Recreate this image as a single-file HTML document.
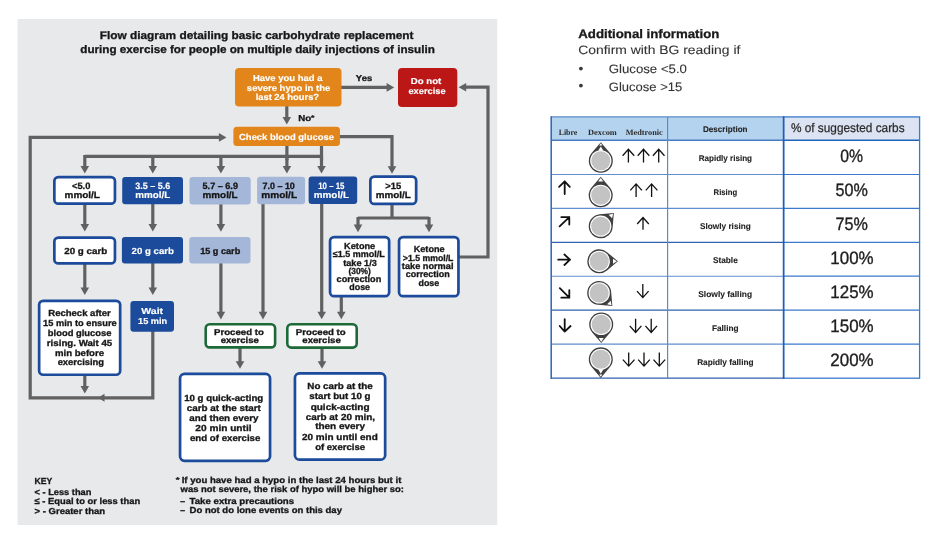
<!DOCTYPE html><html><head><meta charset="utf-8"><style>html,body{margin:0;padding:0;background:#fff;width:940px;height:538px;overflow:hidden;position:relative}svg{will-change:transform}svg text{text-rendering:geometricPrecision}</style></head><body><svg width="940" height="538" viewBox="0 0 940 538" style="position:absolute;left:0;top:0">
<rect x="17.6" y="19" width="479.6" height="506" fill="#e8e9eb"/>
<text transform="translate(99.65 38.70) scale(1.0788 1)" font-family="Liberation Sans" font-weight="bold" font-size="11" fill="#161616" stroke="#161616" stroke-width="0.3">Flow diagram detailing basic carbohydrate replacement</text>
<text transform="translate(80.25 53.40) scale(1.0626 1)" font-family="Liberation Sans" font-weight="bold" font-size="11" fill="#161616" stroke="#161616" stroke-width="0.3">during exercise for people on multiple daily injections of insulin</text>
<path d="M341.00 87.40 L387.60 87.40" fill="none" stroke="#616161" stroke-width="3.2" stroke-linejoin="miter" stroke-linecap="butt"/>
<path d="M394.20 87.40 L386.60 83.10 L386.60 91.70Z" fill="#616161"/>
<path d="M286.80 106.00 L286.80 118.00" fill="none" stroke="#616161" stroke-width="3.2" stroke-linejoin="miter" stroke-linecap="butt"/>
<path d="M286.80 124.60 L282.50 117.00 L291.10 117.00Z" fill="#616161"/>
<path d="M152.80 331.00 L152.80 397.80 L30.20 397.80 L30.20 137.40 L222.00 137.40" fill="none" stroke="#616161" stroke-width="3.2" stroke-linejoin="miter" stroke-linecap="butt"/>
<path d="M226.50 137.40 L218.90 133.10 L218.90 141.70Z" fill="#616161"/>
<path d="M98.00 397.80 L104.50 393.80 L104.50 401.80Z" fill="#616161"/>
<path d="M84.80 375.00 L84.80 386.90" fill="none" stroke="#616161" stroke-width="3.2" stroke-linejoin="miter" stroke-linecap="butt"/>
<path d="M84.80 393.50 L80.50 385.90 L89.10 385.90Z" fill="#616161"/>
<path d="M84.80 156.30 L321.50 156.30" fill="none" stroke="#616161" stroke-width="3.2" stroke-linejoin="miter" stroke-linecap="butt"/>
<path d="M286.90 145.00 L286.90 160.00" fill="none" stroke="#616161" stroke-width="3.2" stroke-linejoin="miter" stroke-linecap="butt"/>
<path d="M321.50 145.00 L321.50 160.00" fill="none" stroke="#616161" stroke-width="3.2" stroke-linejoin="miter" stroke-linecap="butt"/>
<path d="M84.80 155.00 L84.80 167.00" fill="none" stroke="#616161" stroke-width="3.2" stroke-linejoin="miter" stroke-linecap="butt"/>
<path d="M84.80 173.60 L80.50 166.00 L89.10 166.00Z" fill="#616161"/>
<path d="M152.80 155.00 L152.80 167.00" fill="none" stroke="#616161" stroke-width="3.2" stroke-linejoin="miter" stroke-linecap="butt"/>
<path d="M152.80 173.60 L148.50 166.00 L157.10 166.00Z" fill="#616161"/>
<path d="M220.90 155.00 L220.90 167.00" fill="none" stroke="#616161" stroke-width="3.2" stroke-linejoin="miter" stroke-linecap="butt"/>
<path d="M220.90 173.60 L216.60 166.00 L225.20 166.00Z" fill="#616161"/>
<path d="M286.90 155.00 L286.90 167.00" fill="none" stroke="#616161" stroke-width="3.2" stroke-linejoin="miter" stroke-linecap="butt"/>
<path d="M286.90 173.60 L282.60 166.00 L291.20 166.00Z" fill="#616161"/>
<path d="M321.50 155.00 L321.50 167.00" fill="none" stroke="#616161" stroke-width="3.2" stroke-linejoin="miter" stroke-linecap="butt"/>
<path d="M321.50 173.60 L317.20 166.00 L325.80 166.00Z" fill="#616161"/>
<path d="M339.00 136.60 L392.00 136.60 L392.00 167.20" fill="none" stroke="#616161" stroke-width="3.2" stroke-linejoin="miter" stroke-linecap="butt"/>
<path d="M392.00 173.80 L387.70 166.20 L396.30 166.20Z" fill="#616161"/>
<path d="M392.00 204.00 L392.00 218.00" fill="none" stroke="#616161" stroke-width="3.2" stroke-linejoin="miter" stroke-linecap="butt"/>
<path d="M358.00 218.00 L429.00 218.00" fill="none" stroke="#616161" stroke-width="3.2" stroke-linejoin="miter" stroke-linecap="butt"/>
<path d="M358.00 217.00 L358.00 225.60" fill="none" stroke="#616161" stroke-width="3.2" stroke-linejoin="miter" stroke-linecap="butt"/>
<path d="M358.00 232.20 L353.70 224.60 L362.30 224.60Z" fill="#616161"/>
<path d="M429.00 217.00 L429.00 225.60" fill="none" stroke="#616161" stroke-width="3.2" stroke-linejoin="miter" stroke-linecap="butt"/>
<path d="M429.00 232.20 L424.70 224.60 L433.30 224.60Z" fill="#616161"/>
<path d="M459.00 257.00 L488.00 257.00 L488.00 87.20 L463.00 87.20" fill="none" stroke="#616161" stroke-width="3.2" stroke-linejoin="miter" stroke-linecap="butt"/>
<path d="M458.60 87.20 L466.20 82.90 L466.20 91.50Z" fill="#616161"/>
<path d="M84.80 204.00 L84.80 224.90" fill="none" stroke="#616161" stroke-width="3.2" stroke-linejoin="miter" stroke-linecap="butt"/>
<path d="M84.80 231.50 L80.50 223.90 L89.10 223.90Z" fill="#616161"/>
<path d="M152.80 204.00 L152.80 224.90" fill="none" stroke="#616161" stroke-width="3.2" stroke-linejoin="miter" stroke-linecap="butt"/>
<path d="M152.80 231.50 L148.50 223.90 L157.10 223.90Z" fill="#616161"/>
<path d="M220.90 204.00 L220.90 225.10" fill="none" stroke="#616161" stroke-width="3.2" stroke-linejoin="miter" stroke-linecap="butt"/>
<path d="M220.90 231.70 L216.60 224.10 L225.20 224.10Z" fill="#616161"/>
<path d="M84.80 264.00 L84.80 288.40" fill="none" stroke="#616161" stroke-width="3.2" stroke-linejoin="miter" stroke-linecap="butt"/>
<path d="M84.80 295.00 L80.50 287.40 L89.10 287.40Z" fill="#616161"/>
<path d="M152.80 263.00 L152.80 288.40" fill="none" stroke="#616161" stroke-width="3.2" stroke-linejoin="miter" stroke-linecap="butt"/>
<path d="M152.80 295.00 L148.50 287.40 L157.10 287.40Z" fill="#616161"/>
<path d="M220.90 263.00 L220.90 312.80" fill="none" stroke="#616161" stroke-width="3.2" stroke-linejoin="miter" stroke-linecap="butt"/>
<path d="M220.90 319.40 L216.60 311.80 L225.20 311.80Z" fill="#616161"/>
<path d="M263.00 204.00 L263.00 312.80" fill="none" stroke="#616161" stroke-width="3.2" stroke-linejoin="miter" stroke-linecap="butt"/>
<path d="M263.00 319.40 L258.70 311.80 L267.30 311.80Z" fill="#616161"/>
<path d="M321.70 203.00 L321.70 312.70" fill="none" stroke="#616161" stroke-width="3.2" stroke-linejoin="miter" stroke-linecap="butt"/>
<path d="M321.70 319.30 L317.40 311.70 L326.00 311.70Z" fill="#616161"/>
<path d="M341.30 297.00 L341.30 312.70" fill="none" stroke="#616161" stroke-width="3.2" stroke-linejoin="miter" stroke-linecap="butt"/>
<path d="M341.30 319.30 L337.00 311.70 L345.60 311.70Z" fill="#616161"/>
<path d="M240.00 348.00 L240.00 362.20" fill="none" stroke="#616161" stroke-width="3.2" stroke-linejoin="miter" stroke-linecap="butt"/>
<path d="M240.00 368.80 L235.70 361.20 L244.30 361.20Z" fill="#616161"/>
<path d="M322.00 348.00 L322.00 362.20" fill="none" stroke="#616161" stroke-width="3.2" stroke-linejoin="miter" stroke-linecap="butt"/>
<path d="M322.00 368.80 L317.70 361.20 L326.30 361.20Z" fill="#616161"/>
<rect x="235.00" y="68.00" width="106.50" height="38.50" rx="4.00" fill="#e2851b"/>
<text transform="translate(252.95 81.30) scale(1.0767 1)" font-family="Liberation Sans" font-weight="bold" font-size="8.8" fill="#fff" stroke="#fff" stroke-width="0.15">Have you had a</text>
<text transform="translate(246.85 90.90) scale(1.0796 1)" font-family="Liberation Sans" font-weight="bold" font-size="8.8" fill="#fff" stroke="#fff" stroke-width="0.15">severe hypo in the</text>
<text transform="translate(255.65 99.70) scale(1.0628 1)" font-family="Liberation Sans" font-weight="bold" font-size="8.8" fill="#fff" stroke="#fff" stroke-width="0.15">last 24 hours?</text>
<text transform="translate(355.85 80.70) scale(1.0993 1)" font-family="Liberation Sans" font-weight="bold" font-size="8.6" fill="#161616" stroke="#161616" stroke-width="0.3">Yes</text>
<text transform="translate(298.15 120.60) scale(1.1248 1)" font-family="Liberation Sans" font-weight="bold" font-size="8.6" fill="#161616" stroke="#161616" stroke-width="0.3">No</text>
<text transform="translate(311.00 119.50) scale(1.2800 1)" font-family="Liberation Sans" font-weight="bold" font-size="6.8" fill="#161616" stroke="#161616" stroke-width="0.3">*</text>
<rect x="398.00" y="68.00" width="59.30" height="39.00" rx="4.00" fill="#bb1717"/>
<text transform="translate(410.75 84.30) scale(1.0984 1)" font-family="Liberation Sans" font-weight="bold" font-size="8.8" fill="#fff" stroke="#fff" stroke-width="0.15">Do not</text>
<text transform="translate(408.45 94.30) scale(1.0529 1)" font-family="Liberation Sans" font-weight="bold" font-size="8.8" fill="#fff" stroke="#fff" stroke-width="0.15">exercise</text>
<rect x="233.40" y="126.80" width="106.60" height="19.20" rx="3.50" fill="#e2851b"/>
<text transform="translate(239.05 139.80) scale(1.0725 1)" font-family="Liberation Sans" font-weight="bold" font-size="8.8" fill="#fff" stroke="#fff" stroke-width="0.15">Check blood glucose</text>
<rect x="54.35" y="177.05" width="60.60" height="26.60" rx="4.00" fill="#fff" stroke="#1c4b9b" stroke-width="2.7"/>
<text transform="translate(71.95 188.50) scale(1.0143 1)" font-family="Liberation Sans" font-weight="bold" font-size="9.2" fill="#161616" stroke="#161616" stroke-width="0.3">&lt;5.0</text>
<text transform="translate(64.55 197.50) scale(1.0835 1)" font-family="Liberation Sans" font-weight="bold" font-size="9.2" fill="#161616" stroke="#161616" stroke-width="0.3">mmol/L</text>
<rect x="122.20" y="176.90" width="60.80" height="27.40" rx="3.00" fill="#1c4b9b"/>
<text transform="translate(135.25 188.50) scale(0.9786 1)" font-family="Liberation Sans" font-weight="bold" font-size="9.2" fill="#fff" stroke="#fff" stroke-width="0.15">3.5 – 5.6</text>
<text transform="translate(135.25 197.50) scale(1.0713 1)" font-family="Liberation Sans" font-weight="bold" font-size="9.2" fill="#fff" stroke="#fff" stroke-width="0.15">mmol/L</text>
<rect x="189.50" y="177.10" width="61.20" height="27.50" rx="3.00" fill="#a4b7d8"/>
<text transform="translate(202.55 188.50) scale(0.9898 1)" font-family="Liberation Sans" font-weight="bold" font-size="9.2" fill="#161616" stroke="#161616" stroke-width="0.3">5.7 – 6.9</text>
<text transform="translate(202.55 197.50) scale(1.0743 1)" font-family="Liberation Sans" font-weight="bold" font-size="9.2" fill="#161616" stroke="#161616" stroke-width="0.3">mmol/L</text>
<rect x="257.10" y="176.80" width="48.00" height="27.50" rx="3.00" fill="#a4b7d8"/>
<text transform="translate(262.55 188.50) scale(0.9723 1)" font-family="Liberation Sans" font-weight="bold" font-size="9.2" fill="#161616" stroke="#161616" stroke-width="0.3">7.0 – 10</text>
<text transform="translate(261.25 197.50) scale(1.0957 1)" font-family="Liberation Sans" font-weight="bold" font-size="9.2" fill="#161616" stroke="#161616" stroke-width="0.3">mmol/L</text>
<rect x="308.60" y="176.60" width="48.60" height="27.40" rx="3.00" fill="#1c4b9b"/>
<text transform="translate(318.25 188.50) scale(0.8546 1)" font-family="Liberation Sans" font-weight="bold" font-size="9.2" fill="#fff" stroke="#fff" stroke-width="0.15">10 – 15</text>
<text transform="translate(313.75 197.50) scale(1.0774 1)" font-family="Liberation Sans" font-weight="bold" font-size="9.2" fill="#fff" stroke="#fff" stroke-width="0.15">mmol/L</text>
<rect x="370.35" y="176.65" width="45.80" height="27.30" rx="4.00" fill="#fff" stroke="#1c4b9b" stroke-width="2.7"/>
<text transform="translate(385.25 188.50) scale(1.0261 1)" font-family="Liberation Sans" font-weight="bold" font-size="9.2" fill="#161616" stroke="#161616" stroke-width="0.3">&gt;15</text>
<text transform="translate(375.65 197.50) scale(1.0774 1)" font-family="Liberation Sans" font-weight="bold" font-size="9.2" fill="#161616" stroke="#161616" stroke-width="0.3">mmol/L</text>
<rect x="54.35" y="237.55" width="60.60" height="25.90" rx="4.00" fill="#fff" stroke="#1c4b9b" stroke-width="2.7"/>
<text transform="translate(64.25 254.00) scale(1.1030 1)" font-family="Liberation Sans" font-weight="bold" font-size="8.9" fill="#161616" stroke="#161616" stroke-width="0.3">20 g carb</text>
<rect x="121.90" y="236.90" width="61.10" height="26.70" rx="3.00" fill="#1c4b9b"/>
<text transform="translate(131.55 254.00) scale(1.0876 1)" font-family="Liberation Sans" font-weight="bold" font-size="8.9" fill="#fff" stroke="#fff" stroke-width="0.15">20 g carb</text>
<rect x="189.30" y="236.90" width="61.20" height="26.50" rx="3.00" fill="#a4b7d8"/>
<text transform="translate(200.15 254.00) scale(1.0286 1)" font-family="Liberation Sans" font-weight="bold" font-size="8.9" fill="#161616" stroke="#161616" stroke-width="0.3">15 g carb</text>
<rect x="39.15" y="300.85" width="81.00" height="73.90" rx="4.00" fill="#fff" stroke="#1c4b9b" stroke-width="2.7"/>
<text transform="translate(48.25 316.10) scale(1.0831 1)" font-family="Liberation Sans" font-weight="bold" font-size="8.8" fill="#161616" stroke="#161616" stroke-width="0.3">Recheck after</text>
<text transform="translate(43.05 326.30) scale(1.0526 1)" font-family="Liberation Sans" font-weight="bold" font-size="8.8" fill="#161616" stroke="#161616" stroke-width="0.3">15 min to ensure</text>
<text transform="translate(47.85 335.90) scale(1.0667 1)" font-family="Liberation Sans" font-weight="bold" font-size="8.8" fill="#161616" stroke="#161616" stroke-width="0.3">blood glucose</text>
<text transform="translate(46.85 345.60) scale(1.1026 1)" font-family="Liberation Sans" font-weight="bold" font-size="8.8" fill="#161616" stroke="#161616" stroke-width="0.3">rising. Wait 45</text>
<text transform="translate(54.95 355.70) scale(1.0919 1)" font-family="Liberation Sans" font-weight="bold" font-size="8.8" fill="#161616" stroke="#161616" stroke-width="0.3">min before</text>
<text transform="translate(57.65 364.90) scale(1.0659 1)" font-family="Liberation Sans" font-weight="bold" font-size="8.8" fill="#161616" stroke="#161616" stroke-width="0.3">exercising</text>
<rect x="130.40" y="300.90" width="43.60" height="30.90" rx="3.30" fill="#1c4b9b"/>
<text transform="translate(141.35 314.40) scale(1.1890 1)" font-family="Liberation Sans" font-weight="bold" font-size="8.8" fill="#fff" stroke="#fff" stroke-width="0.15">Wait</text>
<text transform="translate(138.05 323.90) scale(1.0439 1)" font-family="Liberation Sans" font-weight="bold" font-size="8.8" fill="#fff" stroke="#fff" stroke-width="0.15">15 min</text>
<rect x="330.05" y="237.05" width="59.10" height="59.10" rx="4.00" fill="#fff" stroke="#1c4b9b" stroke-width="2.7"/>
<text transform="translate(344.05 249.10) scale(1.0460 1)" font-family="Liberation Sans" font-weight="bold" font-size="8.8" fill="#161616" stroke="#161616" stroke-width="0.3">Ketone</text>
<text transform="translate(332.85 257.30) scale(1.0201 1)" font-family="Liberation Sans" font-weight="bold" font-size="8.8" fill="#161616" stroke="#161616" stroke-width="0.3">≤1.5 mmol/L</text>
<text transform="translate(343.25 265.50) scale(1.0378 1)" font-family="Liberation Sans" font-weight="bold" font-size="8.8" fill="#161616" stroke="#161616" stroke-width="0.3">take 1/3</text>
<text transform="translate(348.45 273.70) scale(0.9502 1)" font-family="Liberation Sans" font-weight="bold" font-size="8.8" fill="#161616" stroke="#161616" stroke-width="0.3">(30%)</text>
<text transform="translate(336.55 281.90) scale(1.0388 1)" font-family="Liberation Sans" font-weight="bold" font-size="8.8" fill="#161616" stroke="#161616" stroke-width="0.3">correction</text>
<text transform="translate(349.25 290.00) scale(1.0123 1)" font-family="Liberation Sans" font-weight="bold" font-size="8.8" fill="#161616" stroke="#161616" stroke-width="0.3">dose</text>
<rect x="399.05" y="237.05" width="59.40" height="59.10" rx="4.00" fill="#fff" stroke="#1c4b9b" stroke-width="2.7"/>
<text transform="translate(413.75 252.10) scale(1.0326 1)" font-family="Liberation Sans" font-weight="bold" font-size="8.8" fill="#161616" stroke="#161616" stroke-width="0.3">Ketone</text>
<text transform="translate(402.85 260.60) scale(0.9903 1)" font-family="Liberation Sans" font-weight="bold" font-size="8.8" fill="#161616" stroke="#161616" stroke-width="0.3">&gt;1.5 mmol/L</text>
<text transform="translate(401.85 268.90) scale(1.0447 1)" font-family="Liberation Sans" font-weight="bold" font-size="8.8" fill="#161616" stroke="#161616" stroke-width="0.3">take normal</text>
<text transform="translate(405.85 277.40) scale(1.0202 1)" font-family="Liberation Sans" font-weight="bold" font-size="8.8" fill="#161616" stroke="#161616" stroke-width="0.3">correction</text>
<text transform="translate(418.45 285.60) scale(1.0123 1)" font-family="Liberation Sans" font-weight="bold" font-size="8.8" fill="#161616" stroke="#161616" stroke-width="0.3">dose</text>
<rect x="205.70" y="324.20" width="69.40" height="23.20" rx="4.00" fill="#fff" stroke="#1d6a38" stroke-width="2.6"/>
<text transform="translate(214.05 334.70) scale(1.1334 1)" font-family="Liberation Sans" font-weight="bold" font-size="8.5" fill="#161616" stroke="#161616" stroke-width="0.3">Proceed to</text>
<text transform="translate(220.65 342.60) scale(1.1220 1)" font-family="Liberation Sans" font-weight="bold" font-size="8.5" fill="#161616" stroke="#161616" stroke-width="0.3">exercise</text>
<rect x="287.30" y="324.20" width="69.40" height="23.40" rx="4.00" fill="#fff" stroke="#1d6a38" stroke-width="2.6"/>
<text transform="translate(295.85 334.70) scale(1.1334 1)" font-family="Liberation Sans" font-weight="bold" font-size="8.5" fill="#161616" stroke="#161616" stroke-width="0.3">Proceed to</text>
<text transform="translate(302.35 342.60) scale(1.1279 1)" font-family="Liberation Sans" font-weight="bold" font-size="8.5" fill="#161616" stroke="#161616" stroke-width="0.3">exercise</text>
<rect x="180.05" y="373.85" width="90.00" height="87.00" rx="4.50" fill="#fff" stroke="#1c4b9b" stroke-width="2.7"/>
<text transform="translate(184.15 400.90) scale(1.1008 1)" font-family="Liberation Sans" font-weight="bold" font-size="8.8" fill="#161616" stroke="#161616" stroke-width="0.3">10 g quick-acting</text>
<text transform="translate(186.75 411.00) scale(1.1227 1)" font-family="Liberation Sans" font-weight="bold" font-size="8.8" fill="#161616" stroke="#161616" stroke-width="0.3">carb at the start</text>
<text transform="translate(189.25 421.20) scale(1.1144 1)" font-family="Liberation Sans" font-weight="bold" font-size="8.8" fill="#161616" stroke="#161616" stroke-width="0.3">and then every</text>
<text transform="translate(195.35 431.00) scale(1.1495 1)" font-family="Liberation Sans" font-weight="bold" font-size="8.8" fill="#161616" stroke="#161616" stroke-width="0.3">20 min until</text>
<text transform="translate(189.95 441.00) scale(1.0989 1)" font-family="Liberation Sans" font-weight="bold" font-size="8.8" fill="#161616" stroke="#161616" stroke-width="0.3">end of exercise</text>
<rect x="294.95" y="373.35" width="90.20" height="86.30" rx="4.50" fill="#fff" stroke="#1c4b9b" stroke-width="2.7"/>
<text transform="translate(307.35 388.90) scale(1.1130 1)" font-family="Liberation Sans" font-weight="bold" font-size="8.8" fill="#161616" stroke="#161616" stroke-width="0.3">No carb at the</text>
<text transform="translate(309.35 399.00) scale(1.1062 1)" font-family="Liberation Sans" font-weight="bold" font-size="8.8" fill="#161616" stroke="#161616" stroke-width="0.3">start but 10 g</text>
<text transform="translate(310.65 409.50) scale(1.1368 1)" font-family="Liberation Sans" font-weight="bold" font-size="8.8" fill="#161616" stroke="#161616" stroke-width="0.3">quick-acting</text>
<text transform="translate(305.65 419.50) scale(1.1265 1)" font-family="Liberation Sans" font-weight="bold" font-size="8.8" fill="#161616" stroke="#161616" stroke-width="0.3">carb at 20 min,</text>
<text transform="translate(315.15 429.40) scale(1.1337 1)" font-family="Liberation Sans" font-weight="bold" font-size="8.8" fill="#161616" stroke="#161616" stroke-width="0.3">then every</text>
<text transform="translate(302.05 439.60) scale(1.1304 1)" font-family="Liberation Sans" font-weight="bold" font-size="8.8" fill="#161616" stroke="#161616" stroke-width="0.3">20 min until end</text>
<text transform="translate(315.15 449.60) scale(1.0852 1)" font-family="Liberation Sans" font-weight="bold" font-size="8.8" fill="#161616" stroke="#161616" stroke-width="0.3">of exercise</text>
<text transform="translate(34.55 484.40) scale(0.9958 1)" font-family="Liberation Sans" font-weight="bold" font-size="8.7" fill="#161616" stroke="#161616" stroke-width="0.3">KEY</text>
<text transform="translate(34.55 495.00) scale(1.0645 1)" font-family="Liberation Sans" font-weight="bold" font-size="8.7" fill="#161616" stroke="#161616" stroke-width="0.3">&lt; - Less than</text>
<text transform="translate(34.55 503.90) scale(1.0782 1)" font-family="Liberation Sans" font-weight="bold" font-size="8.7" fill="#161616" stroke="#161616" stroke-width="0.3">≤ - Equal to or less than</text>
<text transform="translate(34.55 513.50) scale(1.0938 1)" font-family="Liberation Sans" font-weight="bold" font-size="8.7" fill="#161616" stroke="#161616" stroke-width="0.3">&gt; - Greater than</text>
<text transform="translate(175.80 481.80) scale(1.4306 1)" font-family="Liberation Sans" font-weight="bold" font-size="6.8" fill="#161616" stroke="#161616" stroke-width="0.3">*</text>
<text transform="translate(181.65 483.00) scale(1.1046 1)" font-family="Liberation Sans" font-weight="bold" font-size="8.7" fill="#161616" stroke="#161616" stroke-width="0.3">If you have had a hypo in the last 24 hours but it</text>
<text transform="translate(180.55 491.70) scale(1.0888 1)" font-family="Liberation Sans" font-weight="bold" font-size="8.7" fill="#161616" stroke="#161616" stroke-width="0.3">was not severe, the risk of hypo will be higher so:</text>
<text transform="translate(180.35 503.80) scale(0.9910 1)" font-family="Liberation Sans" font-weight="bold" font-size="8.7" fill="#161616" stroke="#161616" stroke-width="0.3">–</text>
<text transform="translate(189.55 503.80) scale(1.1128 1)" font-family="Liberation Sans" font-weight="bold" font-size="8.7" fill="#161616" stroke="#161616" stroke-width="0.3">Take extra precautions</text>
<text transform="translate(180.35 513.40) scale(0.9910 1)" font-family="Liberation Sans" font-weight="bold" font-size="8.7" fill="#161616" stroke="#161616" stroke-width="0.3">–</text>
<text transform="translate(189.55 513.40) scale(1.0963 1)" font-family="Liberation Sans" font-weight="bold" font-size="8.7" fill="#161616" stroke="#161616" stroke-width="0.3">Do not do lone events on this day</text>
<text transform="translate(578.25 37.50) scale(1.0758 1)" font-family="Liberation Sans" font-weight="bold" font-size="12.3" fill="#1a1a1a" stroke="#1a1a1a" stroke-width="0.3">Additional information</text>
<text transform="translate(578.25 54.40) scale(1.1395 1)" font-family="Liberation Sans" font-weight="normal" font-size="12.2" fill="#333" stroke="#333" stroke-width="0.1">Confirm with BG reading if</text>
<circle cx="580.9" cy="68.6" r="1.9" fill="#3a3a3a"/>
<circle cx="580.9" cy="85.6" r="1.9" fill="#3a3a3a"/>
<text transform="translate(608.75 73.30) scale(1.0838 1)" font-family="Liberation Sans" font-weight="normal" font-size="12.2" fill="#333" stroke="#333" stroke-width="0.1">Glucose &lt;5.0</text>
<text transform="translate(608.75 90.60) scale(1.0686 1)" font-family="Liberation Sans" font-weight="normal" font-size="12.2" fill="#333" stroke="#333" stroke-width="0.1">Glucose &gt;15</text>
<rect x="551.2" y="116.9" width="232.39999999999998" height="23.400000000000006" fill="#b4d3ef"/>
<rect x="783.6" y="116.9" width="136.0" height="23.400000000000006" fill="#dce4f3"/>
<line x1="551.2" y1="174.5" x2="783.6" y2="174.5" stroke="#5f8ecd" stroke-width="1.1"/>
<line x1="783.6" y1="174.5" x2="919.6" y2="174.5" stroke="#3a79cc" stroke-width="1.2"/>
<line x1="551.2" y1="208.4" x2="783.6" y2="208.4" stroke="#5f8ecd" stroke-width="1.1"/>
<line x1="783.6" y1="208.4" x2="919.6" y2="208.4" stroke="#3a79cc" stroke-width="1.2"/>
<line x1="551.2" y1="242.3" x2="783.6" y2="242.3" stroke="#3062ae" stroke-width="1.3"/>
<line x1="783.6" y1="242.3" x2="919.6" y2="242.3" stroke="#3a79cc" stroke-width="1.2"/>
<line x1="551.2" y1="276.2" x2="783.6" y2="276.2" stroke="#5f8ecd" stroke-width="1.1"/>
<line x1="783.6" y1="276.2" x2="919.6" y2="276.2" stroke="#3a79cc" stroke-width="1.2"/>
<line x1="551.2" y1="310.1" x2="783.6" y2="310.1" stroke="#3062ae" stroke-width="1.3"/>
<line x1="783.6" y1="310.1" x2="919.6" y2="310.1" stroke="#3a79cc" stroke-width="1.2"/>
<line x1="551.2" y1="344.1" x2="783.6" y2="344.1" stroke="#5f8ecd" stroke-width="1.1"/>
<line x1="783.6" y1="344.1" x2="919.6" y2="344.1" stroke="#3a79cc" stroke-width="1.2"/>
<line x1="551.2" y1="140.3" x2="783.6" y2="140.3" stroke="#4a7cc0" stroke-width="1.4"/>
<line x1="783.6" y1="140.3" x2="919.6" y2="140.3" stroke="#1f64b8" stroke-width="1.5"/>
<line x1="551.2" y1="116.9" x2="783.6" y2="116.9" stroke="#5a8bc9" stroke-width="1.4"/>
<line x1="551.2" y1="378.2" x2="783.6" y2="378.2" stroke="#3062ae" stroke-width="1.3"/>
<line x1="551.2" y1="116.2" x2="551.2" y2="378.9" stroke="#2f63b3" stroke-width="1.5"/>
<rect x="783.6" y="116.9" width="136.0" height="261.29999999999995" fill="none" stroke="#3a79cc" stroke-width="1.3"/>
<line x1="667.6" y1="116.9" x2="667.6" y2="378.2" stroke="#5a8bcb" stroke-width="1.2"/>
<line x1="783.6" y1="116.2" x2="783.6" y2="378.9" stroke="#1f5fb3" stroke-width="1.6"/>
<text transform="translate(558.65 134.60) scale(0.9577 1)" font-family="Liberation Serif" font-weight="bold" font-size="8.2" fill="#2b2b2b">Libre</text>
<text transform="translate(588.05 134.60) scale(1.0212 1)" font-family="Liberation Serif" font-weight="bold" font-size="8.2" fill="#2b2b2b">Dexcom</text>
<text transform="translate(625.65 134.60) scale(1.0112 1)" font-family="Liberation Serif" font-weight="bold" font-size="8.2" fill="#2b2b2b">Medtronic</text>
<text transform="translate(702.95 131.80) scale(0.9679 1)" font-family="Liberation Sans" font-weight="bold" font-size="8.4" fill="#222" stroke="#222" stroke-width="0.1">Description</text>
<text transform="translate(790.95 132.10) scale(0.9449 1)" font-family="Liberation Sans" font-weight="normal" font-size="12.5" fill="#2a2a2a" stroke="#2a2a2a" stroke-width="0.25">% of suggested carbs</text>
<text transform="translate(698.65 160.80) scale(0.9641 1)" font-family="Liberation Sans" font-weight="bold" font-size="8.4" fill="#222" stroke="#222" stroke-width="0.1">Rapidly rising</text>
<text transform="translate(713.55 194.85) scale(0.9221 1)" font-family="Liberation Sans" font-weight="bold" font-size="8.4" fill="#222" stroke="#222" stroke-width="0.1">Rising</text>
<text transform="translate(700.05 228.75) scale(0.9831 1)" font-family="Liberation Sans" font-weight="bold" font-size="8.4" fill="#222" stroke="#222" stroke-width="0.1">Slowly rising</text>
<text transform="translate(712.95 262.65) scale(0.9865 1)" font-family="Liberation Sans" font-weight="bold" font-size="8.4" fill="#222" stroke="#222" stroke-width="0.1">Stable</text>
<text transform="translate(698.25 296.55) scale(1.0053 1)" font-family="Liberation Sans" font-weight="bold" font-size="8.4" fill="#222" stroke="#222" stroke-width="0.1">Slowly falling</text>
<text transform="translate(711.95 330.50) scale(0.9852 1)" font-family="Liberation Sans" font-weight="bold" font-size="8.4" fill="#222" stroke="#222" stroke-width="0.1">Falling</text>
<text transform="translate(697.15 364.55) scale(0.9852 1)" font-family="Liberation Sans" font-weight="bold" font-size="8.4" fill="#222" stroke="#222" stroke-width="0.1">Rapidly falling</text>
<text transform="translate(840.25 162.40) scale(0.8764 1)" font-family="Liberation Sans" font-weight="normal" font-size="18" fill="#1e1e1e" stroke="#1e1e1e" stroke-width="0.35">0%</text>
<text transform="translate(835.55 196.45) scale(0.8964 1)" font-family="Liberation Sans" font-weight="normal" font-size="18" fill="#1e1e1e" stroke="#1e1e1e" stroke-width="0.35">50%</text>
<text transform="translate(835.55 230.35) scale(0.8964 1)" font-family="Liberation Sans" font-weight="normal" font-size="18" fill="#1e1e1e" stroke="#1e1e1e" stroke-width="0.35">75%</text>
<text transform="translate(830.35 264.25) scale(0.9403 1)" font-family="Liberation Sans" font-weight="normal" font-size="18" fill="#1e1e1e" stroke="#1e1e1e" stroke-width="0.35">100%</text>
<text transform="translate(830.35 298.15) scale(0.9403 1)" font-family="Liberation Sans" font-weight="normal" font-size="18" fill="#1e1e1e" stroke="#1e1e1e" stroke-width="0.35">125%</text>
<text transform="translate(830.35 332.10) scale(0.9403 1)" font-family="Liberation Sans" font-weight="normal" font-size="18" fill="#1e1e1e" stroke="#1e1e1e" stroke-width="0.35">150%</text>
<text transform="translate(830.35 366.15) scale(0.9403 1)" font-family="Liberation Sans" font-weight="normal" font-size="18" fill="#1e1e1e" stroke="#1e1e1e" stroke-width="0.35">200%</text>
<path d="M622.60 155.80 L628.40 149.30 L634.20 155.80 M628.40 149.30 L628.40 162.60" fill="none" stroke="#111" stroke-width="1.3" stroke-linecap="butt" stroke-linejoin="miter"/>
<path d="M637.70 155.80 L643.50 149.30 L649.30 155.80 M643.50 149.30 L643.50 162.60" fill="none" stroke="#111" stroke-width="1.3" stroke-linecap="butt" stroke-linejoin="miter"/>
<path d="M652.90 155.80 L658.70 149.30 L664.50 155.80 M658.70 149.30 L658.70 162.60" fill="none" stroke="#111" stroke-width="1.3" stroke-linecap="butt" stroke-linejoin="miter"/>
<path d="M630.30 190.40 L636.10 183.90 L641.90 190.40 M636.10 183.90 L636.10 197.00" fill="none" stroke="#111" stroke-width="1.3" stroke-linecap="butt" stroke-linejoin="miter"/>
<path d="M645.80 190.40 L651.60 183.90 L657.40 190.40 M651.60 183.90 L651.60 197.00" fill="none" stroke="#111" stroke-width="1.3" stroke-linecap="butt" stroke-linejoin="miter"/>
<path d="M637.20 224.00 L643.00 217.50 L648.80 224.00 M643.00 217.50 L643.00 229.70" fill="none" stroke="#111" stroke-width="1.3" stroke-linecap="butt" stroke-linejoin="miter"/>
<path d="M637.00 291.10 L642.80 297.60 L648.60 291.10 M642.80 297.60 L642.80 283.90" fill="none" stroke="#111" stroke-width="1.3" stroke-linecap="butt" stroke-linejoin="miter"/>
<path d="M629.80 325.90 L635.60 332.40 L641.40 325.90 M635.60 332.40 L635.60 318.70" fill="none" stroke="#111" stroke-width="1.3" stroke-linecap="butt" stroke-linejoin="miter"/>
<path d="M645.40 325.90 L651.20 332.40 L657.00 325.90 M651.20 332.40 L651.20 318.70" fill="none" stroke="#111" stroke-width="1.3" stroke-linecap="butt" stroke-linejoin="miter"/>
<path d="M622.90 359.60 L628.70 366.10 L634.50 359.60 M628.70 366.10 L628.70 352.40" fill="none" stroke="#111" stroke-width="1.3" stroke-linecap="butt" stroke-linejoin="miter"/>
<path d="M638.20 359.60 L644.00 366.10 L649.80 359.60 M644.00 366.10 L644.00 352.40" fill="none" stroke="#111" stroke-width="1.3" stroke-linecap="butt" stroke-linejoin="miter"/>
<path d="M653.50 359.60 L659.30 366.10 L665.10 359.60 M659.30 366.10 L659.30 352.40" fill="none" stroke="#111" stroke-width="1.3" stroke-linecap="butt" stroke-linejoin="miter"/>
<path d="M559.1 186.8 L564.7 181.3 L569.8 186.8 M564.7 181.6 L564.7 194" fill="none" stroke="#111" stroke-width="1.8" stroke-linecap="round" stroke-linejoin="round"/>
<path d="M559.6 226.3 L569.3 217.1 M561.3 217.1 L569.3 217.1 L569.3 224.6" fill="none" stroke="#111" stroke-width="1.8" stroke-linecap="round" stroke-linejoin="round"/>
<path d="M558.2 259.7 L570 259.7 M564.4 254.5 L570 259.7 L564.4 265" fill="none" stroke="#111" stroke-width="1.8" stroke-linecap="round" stroke-linejoin="round"/>
<path d="M559.8 288.2 L569.3 297.7 M561.3 297.7 L569.3 297.7 L569.3 290.1" fill="none" stroke="#111" stroke-width="1.8" stroke-linecap="round" stroke-linejoin="round"/>
<path d="M564.7 319.2 L564.7 331.6 M559.7 326 L564.7 331.6 L570.6 326" fill="none" stroke="#111" stroke-width="1.8" stroke-linecap="round" stroke-linejoin="round"/>
<path d="M600.80 142.20 L609.97 153.06 A12.0 12.0 0 1 1 591.63 153.06 Z" fill="#404040"/>
<path d="M600.80 143.30 L602.40 145.60 L599.20 145.60 Z" fill="#fff"/>
<path d="M600.80 146.40 L603.40 150.80 L598.20 150.80 Z" fill="#fff"/>
<circle cx="600.8" cy="160.8" r="10.65" fill="#fff"/>
<circle cx="600.8" cy="160.8" r="9.55" fill="#c3c3c3"/>
<path d="M600.70 176.70 L609.87 187.56 A12.0 12.0 0 1 1 591.53 187.56 Z" fill="#404040"/>
<path d="M600.70 177.80 L603.20 181.60 L598.20 181.60 Z" fill="#fff"/>
<circle cx="600.7" cy="195.3" r="10.65" fill="#fff"/>
<circle cx="600.7" cy="195.3" r="9.55" fill="#c3c3c3"/>
<path d="M613.85 213.05 L612.66 227.21 A12.0 12.0 0 1 1 599.69 214.24 Z" fill="#404040"/>
<path d="M613.07 213.83 L612.16 218.28 L608.62 214.74 Z" fill="#fff"/>
<circle cx="600.7" cy="226.2" r="10.65" fill="#fff"/>
<circle cx="600.7" cy="226.2" r="9.55" fill="#c3c3c3"/>
<path d="M617.90 261.30 L607.04 270.47 A12.0 12.0 0 1 1 607.04 252.13 Z" fill="#404040"/>
<path d="M616.80 261.30 L613.00 263.80 L613.00 258.80 Z" fill="#fff"/>
<circle cx="599.3" cy="261.3" r="10.65" fill="#fff"/>
<circle cx="599.3" cy="261.3" r="9.55" fill="#c3c3c3"/>
<path d="M612.35 306.05 L598.19 304.86 A12.0 12.0 0 1 1 611.16 291.89 Z" fill="#404040"/>
<path d="M611.57 305.27 L607.12 304.36 L610.66 300.82 Z" fill="#fff"/>
<circle cx="599.2" cy="292.9" r="10.65" fill="#fff"/>
<circle cx="599.2" cy="292.9" r="9.55" fill="#c3c3c3"/>
<path d="M601.20 343.00 L592.03 332.14 A12.0 12.0 0 1 1 610.37 332.14 Z" fill="#404040"/>
<path d="M601.20 341.90 L598.70 338.10 L603.70 338.10 Z" fill="#fff"/>
<circle cx="601.2" cy="324.4" r="10.65" fill="#fff"/>
<circle cx="601.2" cy="324.4" r="9.55" fill="#c3c3c3"/>
<path d="M600.80 377.90 L591.63 367.04 A12.0 12.0 0 1 1 609.97 367.04 Z" fill="#404040"/>
<path d="M600.80 376.80 L599.20 374.50 L602.40 374.50 Z" fill="#fff"/>
<path d="M600.80 373.70 L598.20 369.30 L603.40 369.30 Z" fill="#fff"/>
<circle cx="600.8" cy="359.3" r="10.65" fill="#fff"/>
<circle cx="600.8" cy="359.3" r="9.55" fill="#c3c3c3"/>
</svg></body></html>
